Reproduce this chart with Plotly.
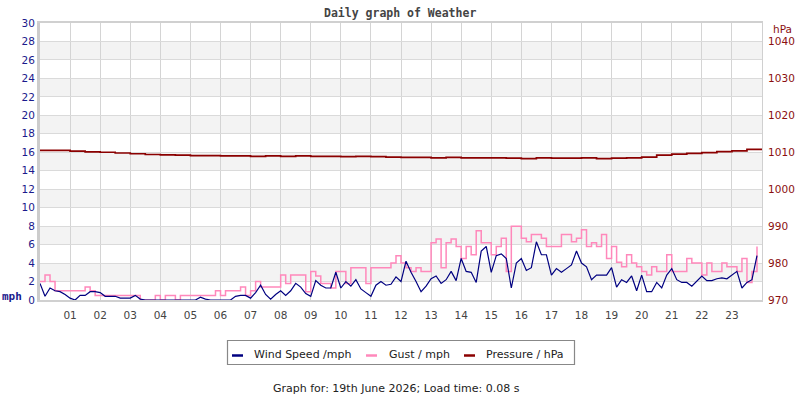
import plotly.graph_objects as go

# ---------------- data ----------------
SAMPLE_MINUTES = 10
hour_labels = ["01", "02", "03", "04", "05", "06", "07", "08", "09", "10", "11", "12",
               "13", "14", "15", "16", "17", "18", "19", "20", "21", "22", "23"]
hour_ticks = list(range(1, 24))

wind = [
    1.8, 0.4, 1.3, 1.0, 0.9, 0.6,
    0.2, 0.0, 0.5, 0.5, 0.9, 0.9,
    0.8, 0.4, 0.4, 0.4, 0.2, 0.2,
    0.2, 0.5, 0.1, 0.0, 0.0, 0.0,
    0.0, 0.0, 0.0, 0.0, 0.0, 0.0,
    0.0, 0.0, 0.3, 0.1, 0.0, 0.0,
    0.0, 0.0, 0.0, 0.4, 0.5, 0.5,
    0.2, 0.8, 1.6, 0.6, 0.1, 0.6,
    1.0, 0.5, 1.0, 1.8, 1.4, 0.7,
    0.4, 2.1, 1.6, 1.3, 1.3, 3.0,
    1.3, 2.0, 1.5, 2.2, 1.2, 0.8,
    0.4, 1.6, 2.0, 1.6, 1.7, 2.5,
    2.0, 4.2, 3.0, 2.0, 0.9, 1.5,
    2.3, 2.6, 1.8, 2.2, 3.1, 2.1,
    4.5, 3.1, 3.0, 1.9, 5.3, 5.8,
    3.0, 4.8, 5.0, 4.5, 1.3, 4.0,
    4.5, 3.2, 3.5, 6.3, 4.9, 4.9,
    2.7, 3.4, 3.0, 3.4, 3.8, 5.3,
    4.0, 3.6, 2.2, 2.7, 2.7, 2.7,
    3.5, 1.4, 2.2, 1.9, 2.6, 1.0,
    2.7, 0.9, 0.9, 1.9, 1.3, 2.7,
    3.4, 2.2, 1.9, 1.9, 1.5, 2.0,
    2.6, 2.1, 2.1, 2.3, 2.4, 2.3,
    2.7, 3.1, 1.3, 1.9, 2.2, 4.8,
]

gust = [
    2.0, 2.7, 2.0, 1.0, 1.0, 1.0,
    1.0, 1.0, 1.0, 1.4, 1.0, 0.5,
    0.5, 0.5, 0.5, 0.5, 0.5, 0.5,
    0.5, 0.5, 0.0, 0.0, 0.0, 0.5,
    0.0, 0.5, 0.5, 0.0, 0.5, 0.5,
    0.5, 0.5, 0.5, 0.5, 0.5, 1.0,
    0.5, 1.0, 1.0, 1.0, 1.4, 0.5,
    1.0, 2.0, 1.4, 1.4, 1.4, 1.4,
    2.7, 1.8, 2.7, 2.7, 2.7, 0.9,
    3.1, 2.6, 1.8, 1.8, 1.3, 3.1,
    3.1, 1.8, 3.5, 3.5, 3.5, 1.8,
    3.5, 3.5, 3.5, 3.5, 4.0, 4.8,
    4.0, 3.5, 3.1, 3.5, 3.1, 3.1,
    6.2, 6.6, 3.5, 6.2, 6.6, 5.8,
    4.5, 5.8, 4.9, 7.5, 6.2, 6.2,
    4.9, 5.8, 6.7, 3.1, 8.0, 8.0,
    6.7, 6.3, 7.1, 7.1, 6.7, 5.8,
    5.8, 5.8, 7.1, 7.1, 6.3, 6.7,
    7.6, 5.8, 6.2, 5.8, 7.1, 4.5,
    5.8, 4.1, 3.6, 4.9, 4.0, 3.6,
    3.1, 2.7, 3.6, 3.1, 3.1, 4.9,
    3.1, 3.1, 3.1, 4.5, 4.0, 4.0,
    2.7, 4.0, 3.1, 3.1, 4.0, 3.6,
    3.6, 3.1, 4.5, 1.9, 3.1, 5.8,
]

PRESSURE_MINUTES = 30
pressure = [
    1010.5, 1010.5, 1010.3, 1010.1, 1010.0, 1009.8, 1009.6, 1009.4,
    1009.3, 1009.2, 1009.1, 1009.1, 1009.0, 1009.0, 1008.9, 1009.0,
    1008.9, 1009.0, 1008.9, 1008.9, 1008.8, 1008.9, 1008.8, 1008.7,
    1008.6, 1008.6, 1008.5, 1008.6, 1008.5, 1008.5, 1008.5, 1008.4,
    1008.3, 1008.5, 1008.4, 1008.4, 1008.5, 1008.3, 1008.4, 1008.5,
    1008.7, 1009.2, 1009.5, 1009.7, 1009.9, 1010.2, 1010.4, 1010.8,
    1010.7,
]

mph_ticks = list(range(0, 31, 2))
hpa_ticks = [970, 980, 990, 1000, 1010, 1020, 1030, 1040]

wind_t = [i * SAMPLE_MINUTES / 60 for i in range(len(wind))]
gust_t = [i * SAMPLE_MINUTES / 60 for i in range(len(gust))]
pres_t = [i * PRESSURE_MINUTES / 60 for i in range(len(pressure))]

# ---------------- layout helpers ----------------
W, H = 800, 400
L, R, T, B = 40, 38, 23, 100
PW, PH = W - L - R, H - T - B


def px(x):
    return (x - L) / PW


def py(y):
    return (H - B - y) / PH


NAVY = "#000080"
PINK = "#ff88bb"
DRED = "#8b0000"
TXT = "#222222"

fig = go.Figure()
fig.add_trace(go.Scatter(x=gust_t, y=gust, mode="lines", line=dict(color=PINK, width=1.5, shape="hv"),
                         name="Gust / mph", showlegend=False))
fig.add_trace(go.Scatter(x=wind_t, y=wind, mode="lines", line=dict(color=NAVY, width=1.2),
                         name="Wind Speed /mph", showlegend=False))
fig.add_trace(go.Scatter(x=pres_t, y=pressure, mode="lines", line=dict(color=DRED, width=1.7, shape="hv"),
                         name="Pressure / hPa", yaxis="y2", showlegend=False))

shapes = []
for k, (a, b) in enumerate(zip(mph_ticks[:-1], mph_ticks[1:])):
    if k % 2 == 1:
        shapes.append(dict(type="rect", xref="paper", yref="y", x0=0, x1=1, y0=a, y1=b,
                           fillcolor="#f3f3f3", line=dict(width=0), layer="below"))

# legend box
shapes.append(dict(type="rect", xref="paper", yref="paper", x0=px(227.5), x1=px(574.5),
                   y0=py(364.5), y1=py(340.5), line=dict(color="#888888", width=1.2),
                   fillcolor="white", layer="above"))
legend_items = [("Wind Speed /mph", NAVY, 232, 252), ("Gust / mph", PINK, 366, 387),
                ("Pressure / hPa", DRED, 464, 484)]
annotations = []
for name, col, lx, tx in legend_items:
    shapes.append(dict(type="line", xref="paper", yref="paper", x0=px(lx), x1=px(lx + 11),
                       y0=py(355.5), y1=py(355.5), line=dict(color=col, width=2.5), layer="above"))
    annotations.append(dict(text=name, xref="paper", yref="paper", x=px(tx), y=py(354),
                            xanchor="left", yanchor="middle", showarrow=False,
                            font=dict(family="DejaVu Sans", size=11, color=TXT)))

annotations += [
    dict(text="<b>Daily graph of Weather</b>", xref="paper", yref="paper", x=px(400), y=py(13),
         xanchor="center", yanchor="middle", showarrow=False,
         font=dict(family="DejaVu Sans Mono", size=11.5, color="#444444")),
    dict(text="<b>mph</b>", xref="paper", yref="paper", x=px(12), y=py(296),
         xanchor="center", yanchor="middle", showarrow=False,
         font=dict(family="DejaVu Sans Mono", size=11, color="#1a1a8c")),
    dict(text="hPa", xref="paper", yref="paper", x=px(782), y=py(29),
         xanchor="center", yanchor="middle", showarrow=False,
         font=dict(family="DejaVu Sans", size=10.5, color="#8b1010")),
    dict(text="Graph for: 19th June 2026; Load time: 0.08 s", xref="paper", yref="paper",
         x=px(396), y=py(388), xanchor="center", yanchor="middle", showarrow=False,
         font=dict(family="DejaVu Sans", size=11, color=TXT)),
]

fig.update_layout(
    width=W, height=H, autosize=False,
    margin=dict(l=L, r=R, t=T, b=B, pad=0, autoexpand=False),
    paper_bgcolor="white", plot_bgcolor="white",
    showlegend=False,
    shapes=shapes, annotations=annotations,
    xaxis=dict(range=[0, 24], tickvals=hour_ticks, ticktext=hour_labels,
               showgrid=True, gridcolor="#d4d4d4", gridwidth=1, zeroline=False,
               showline=True, linecolor="#d0d0d0", linewidth=2, mirror=True,
               ticks="outside", ticklen=4, tickcolor="rgba(0,0,0,0)", automargin=False,
               tickfont=dict(family="DejaVu Sans", size=10.5, color="#444444")),
    yaxis=dict(range=[0, 30], tickvals=mph_ticks, showgrid=True, gridcolor="#dadada",
               gridwidth=1, zeroline=False, showline=True, linecolor="#cccccc", linewidth=3,
               ticks="", automargin=False,
               tickfont=dict(family="DejaVu Sans", size=10.5, color="#1a1a8c")),
    yaxis2=dict(range=[970, 1045], tickvals=hpa_ticks, overlaying="y", side="right",
                showgrid=False, zeroline=False, showline=True, linecolor="#d0d0d0", linewidth=1,
                ticks="outside", ticklen=3, tickcolor="rgba(0,0,0,0)", automargin=False,
                tickfont=dict(family="DejaVu Sans", size=10.5, color="#8b1010")),
)

fig.write_html("out.html", config={"displayModeBar": False, "responsive": False},
               post_script="document.body.style.margin='0';document.body.style.padding='0';"
                           "document.body.style.overflow='hidden';")
